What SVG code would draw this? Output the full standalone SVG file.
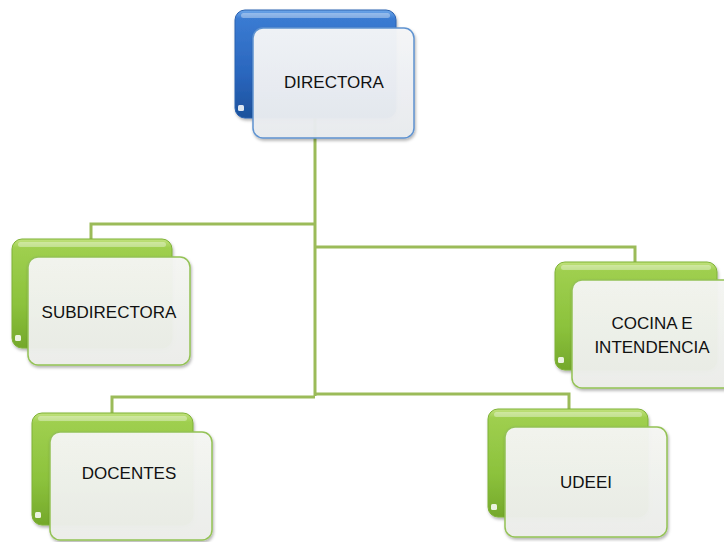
<svg xmlns="http://www.w3.org/2000/svg" width="724" height="542" viewBox="0 0 724 542">
<defs>
<linearGradient id="gBlue" x1="0" y1="0" x2="0" y2="1">
<stop offset="0" stop-color="#6fa8ea"/>
<stop offset="0.08" stop-color="#3a7bd2"/>
<stop offset="0.6" stop-color="#2a66bd"/>
<stop offset="1" stop-color="#1c519c"/>
</linearGradient>
<linearGradient id="gGreen" x1="0" y1="0" x2="0" y2="1">
<stop offset="0" stop-color="#c2e27f"/>
<stop offset="0.08" stop-color="#9fcf4f"/>
<stop offset="0.6" stop-color="#8cc23c"/>
<stop offset="1" stop-color="#74a82b"/>
</linearGradient>
<linearGradient id="gFront" x1="0" y1="0" x2="0" y2="1">
<stop offset="0" stop-color="#f5f6f8"/>
<stop offset="1" stop-color="#e8ebef"/>
</linearGradient>
<linearGradient id="gFrontG" x1="0" y1="0" x2="0" y2="1">
<stop offset="0" stop-color="#f5f6f3"/>
<stop offset="1" stop-color="#eceeea"/>
</linearGradient>
<filter id="sh" x="-10%" y="-10%" width="130%" height="130%">
<feDropShadow dx="1" dy="2" stdDeviation="1.5" flood-color="#000" flood-opacity="0.3"/>
</filter>
</defs>
<style>
.conn{fill:none;stroke:#9bbb59;stroke-width:3}
.backB{fill:url(#gBlue);stroke:#2a62b0;stroke-width:1}
.backG{fill:url(#gGreen);stroke:#7fb236;stroke-width:1}
.hl{fill:#ffffff;fill-opacity:0.35}
.notch{fill:#ffffff;fill-opacity:0.85}
.frontB{fill:url(#gFront);fill-opacity:0.96;stroke:#5f93d0;stroke-width:1.5}
.frontG{fill:url(#gFrontG);fill-opacity:0.96;stroke:#94c256;stroke-width:1.5}
.lbl{font-family:"Liberation Sans",Arial,sans-serif;font-size:17px;fill:#111;text-anchor:middle}
</style>
<g id="connectors">
<path class="conn" d="M315,118 V396"/>
<path class="conn" d="M315,224 H91 V240"/>
<path class="conn" d="M315,247 H635 V264"/>
<path class="conn" d="M315,397 H112 V415"/>
<path class="conn" d="M315,394 H569 V411"/>
</g>
<g id="directora">
<rect class="backB" x="235" y="10" width="161" height="108" rx="10" filter="url(#sh)"/>
<rect class="hl" x="241" y="13" width="149" height="5" rx="2.5"/>
<rect class="notch" x="238" y="105" width="6" height="6" rx="1.5"/>
<rect class="frontB" x="253" y="28" width="161" height="110" rx="10" filter="url(#sh)"/>
<text class="lbl" x="334" y="88">DIRECTORA</text>
</g>
<g id="subdirectora">
<rect class="backG" x="12" y="239" width="160" height="109" rx="10" filter="url(#sh)"/>
<rect class="hl" x="18" y="242" width="148" height="5" rx="2.5"/>
<rect class="notch" x="15" y="335" width="6" height="6" rx="1.5"/>
<rect class="frontG" x="28" y="257" width="162" height="108" rx="10" filter="url(#sh)"/>
<text class="lbl" x="109" y="318">SUBDIRECTORA</text>
</g>
<g id="cocina">
<rect class="backG" x="555" y="262" width="162" height="108" rx="10" filter="url(#sh)"/>
<rect class="hl" x="561" y="265" width="150" height="5" rx="2.5"/>
<rect class="notch" x="558" y="357" width="6" height="6" rx="1.5"/>
<rect class="frontG" x="572" y="280" width="162" height="108" rx="10" filter="url(#sh)"/>
<text class="lbl" x="652" y="329">COCINA E</text>
<text class="lbl" x="652" y="353">INTENDENCIA</text>
</g>
<g id="docentes">
<rect class="backG" x="32" y="413" width="161" height="112" rx="10" filter="url(#sh)"/>
<rect class="hl" x="38" y="416" width="149" height="5" rx="2.5"/>
<rect class="notch" x="35" y="512" width="6" height="6" rx="1.5"/>
<rect class="frontG" x="50" y="432" width="162" height="108" rx="10" filter="url(#sh)"/>
<text class="lbl" x="129" y="479">DOCENTES</text>
</g>
<g id="udeei">
<rect class="backG" x="488" y="409" width="160" height="108" rx="10" filter="url(#sh)"/>
<rect class="hl" x="494" y="412" width="148" height="5" rx="2.5"/>
<rect class="notch" x="491" y="504" width="6" height="6" rx="1.5"/>
<rect class="frontG" x="505" y="427" width="162" height="110" rx="10" filter="url(#sh)"/>
<text class="lbl" x="586" y="488">UDEEI</text>
</g>
</svg>
